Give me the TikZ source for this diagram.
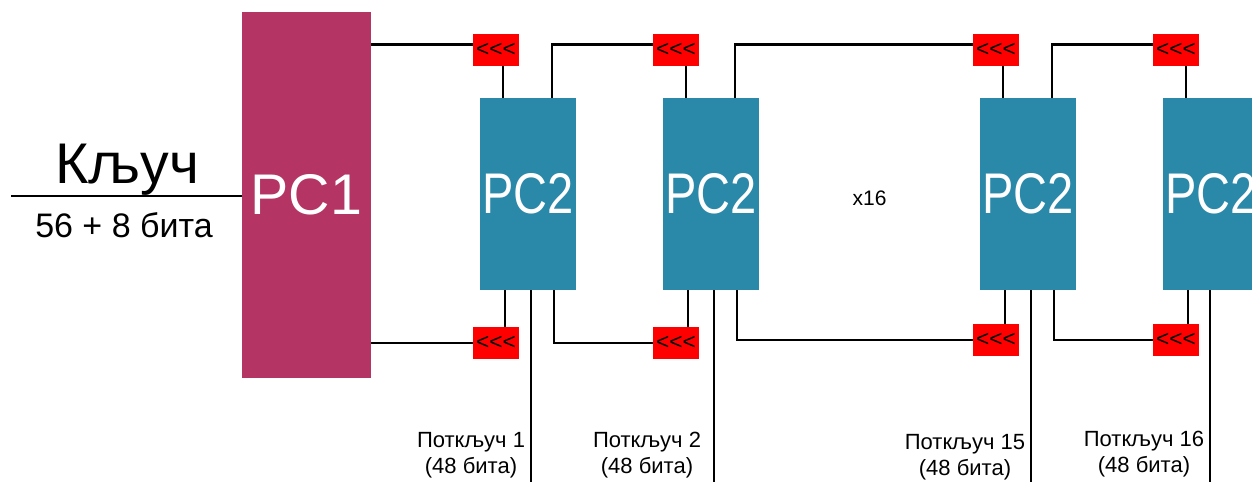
\documentclass[tikz,border=0pt]{standalone}
\usepackage{fontspec}
\setmainfont{Liberation Sans}
\usepackage{xcolor}
\usepackage{graphicx}
\usepackage{tikz}
\usetikzlibrary{arrows.meta, positioning}
\definecolor{pcmagenta}{HTML}{B43463}
\definecolor{pcteal}{HTML}{2A88A8}

\begin{document}
\begin{tikzpicture}[
  x=0.75pt, y=-0.75pt,
  pcone/.style={fill=pcmagenta, text=white, inner sep=0pt, minimum width=96.75pt, minimum height=274.5pt, font=\fontsize{43}{50}\selectfont},
  pctwo/.style={fill=pcteal, text=white, inner sep=0pt, minimum width=72pt, minimum height=144pt, font=\fontsize{43}{50}\selectfont},
  shiftbox/.style={fill=red, inner sep=0pt, minimum width=34.5pt, minimum height=24pt, font=\fontsize{17}{20}\selectfont},
  sublabel/.style={align=center, font=\fontsize{16.5}{19.5}\selectfont},
  wire/.style={line width=2pt}
]
\useasboundingbox (0,0) rectangle (1252,482);
\clip (0,0) rectangle (1252,482);
\coordinate (keyin) at (11,196);
\coordinate (bottom) at (0,482);
\node[pcone] (pc1) at (306.5,195) {PC1};
\node[pctwo] (pc2a) at (528,194) {\scalebox{0.82}[1]{PC2}};
\node[pctwo] (pc2b) at (711,194) {\scalebox{0.82}[1]{PC2}};
\node[pctwo] (pc2c) at (1028,194) {\scalebox{0.82}[1]{PC2}};
\node[pctwo] (pc2d) at (1211,194) {\scalebox{0.82}[1]{PC2}};
\node[shiftbox] (rot1t) at (496,49.5) {<\kern0pt<\kern0pt<};
\node[shiftbox] (rot2t) at (676,49.5) {<\kern0pt<\kern0pt<};
\node[shiftbox] (rot3t) at (996,49.5) {<\kern0pt<\kern0pt<};
\node[shiftbox] (rot4t) at (1176,49.5) {<\kern0pt<\kern0pt<};
\node[shiftbox] (rot1b) at (496,343) {<\kern0pt<\kern0pt<};
\node[shiftbox] (rot2b) at (676,343) {<\kern0pt<\kern0pt<};
\node[shiftbox] (rot3b) at (996,340) {<\kern0pt<\kern0pt<};
\node[shiftbox] (rot4b) at (1176,340) {<\kern0pt<\kern0pt<};
\node[anchor=base, font=\fontsize{43}{50}\selectfont] (keyname) at (127,183) {Кључ};
\node[anchor=base, font=\fontsize{25.5}{30}\selectfont] (keybits) at (124,237) {56 + 8 бита};
\node[anchor=base, font=\fontsize{15.75}{19}\selectfont] (rounds) at (869.5,205) {x16};
\node[sublabel] (sub1) at (471,455) {Поткључ 1\\(48 бита)};
\node[sublabel] (sub2) at (647,455) {Поткључ 2\\(48 бита)};
\node[sublabel] (sub15) at (965,457) {Поткључ 15\\(48 бита)};
\node[sublabel] (sub16) at (1144,454) {Поткључ 16\\(48 бита)};
% key input
\draw[wire] (keyin) -- (keyin -| pc1.west);
% upper half
\draw[wire] ([yshift=4pt]rot1t.west -| pc1.east) -- ([yshift=4pt]rot1t.west);
\draw[wire] ([xshift=18pt]pc2a.north) |- ([yshift=4pt]rot2t.west);
\draw[wire] ([xshift=18pt]pc2b.north) |- ([yshift=4pt]rot3t.west);
\draw[wire] ([xshift=18pt]pc2c.north) |- ([yshift=4pt]rot4t.west);
\draw[wire] ([xshift=-18.75pt]pc2a.north) -- ([xshift=-18.75pt]pc2a.north |- rot1t.south);
\draw[wire] ([xshift=-18.75pt]pc2b.north) -- ([xshift=-18.75pt]pc2b.north |- rot2t.south);
\draw[wire] ([xshift=-18.75pt]pc2c.north) -- ([xshift=-18.75pt]pc2c.north |- rot3t.south);
\draw[wire] ([xshift=-18.75pt]pc2d.north) -- ([xshift=-18.75pt]pc2d.north |- rot4t.south);
% lower half
\draw[wire] (rot1b.west -| pc1.east) -- (rot1b.west);
\draw[wire] ([xshift=19.5pt]pc2a.south) |- (rot2b.west);
\draw[wire] ([xshift=19.5pt]pc2b.south) |- (rot3b.west);
\draw[wire] ([xshift=19.5pt]pc2c.south) |- (rot4b.west);
\draw[wire] ([xshift=-17.25pt]pc2a.south) -- ([xshift=-17.25pt]pc2a.south |- rot1b.north);
\draw[wire] ([xshift=-17.25pt]pc2b.south) -- ([xshift=-17.25pt]pc2b.south |- rot2b.north);
\draw[wire] ([xshift=-17.25pt]pc2c.south) -- ([xshift=-17.25pt]pc2c.south |- rot3b.north);
\draw[wire] ([xshift=-17.25pt]pc2d.south) -- ([xshift=-17.25pt]pc2d.south |- rot4b.north);
% subkeys
\draw[wire] ([xshift=2.25pt]pc2a.south) -- ([xshift=2.25pt]pc2a.south |- bottom);
\draw[wire] ([xshift=2.25pt]pc2b.south) -- ([xshift=2.25pt]pc2b.south |- bottom);
\draw[wire] ([xshift=2.25pt]pc2c.south) -- ([xshift=2.25pt]pc2c.south |- bottom);
\draw[wire] ([xshift=-0.75pt]pc2d.south) -- ([xshift=-0.75pt]pc2d.south |- bottom);
\end{tikzpicture}
\end{document}
